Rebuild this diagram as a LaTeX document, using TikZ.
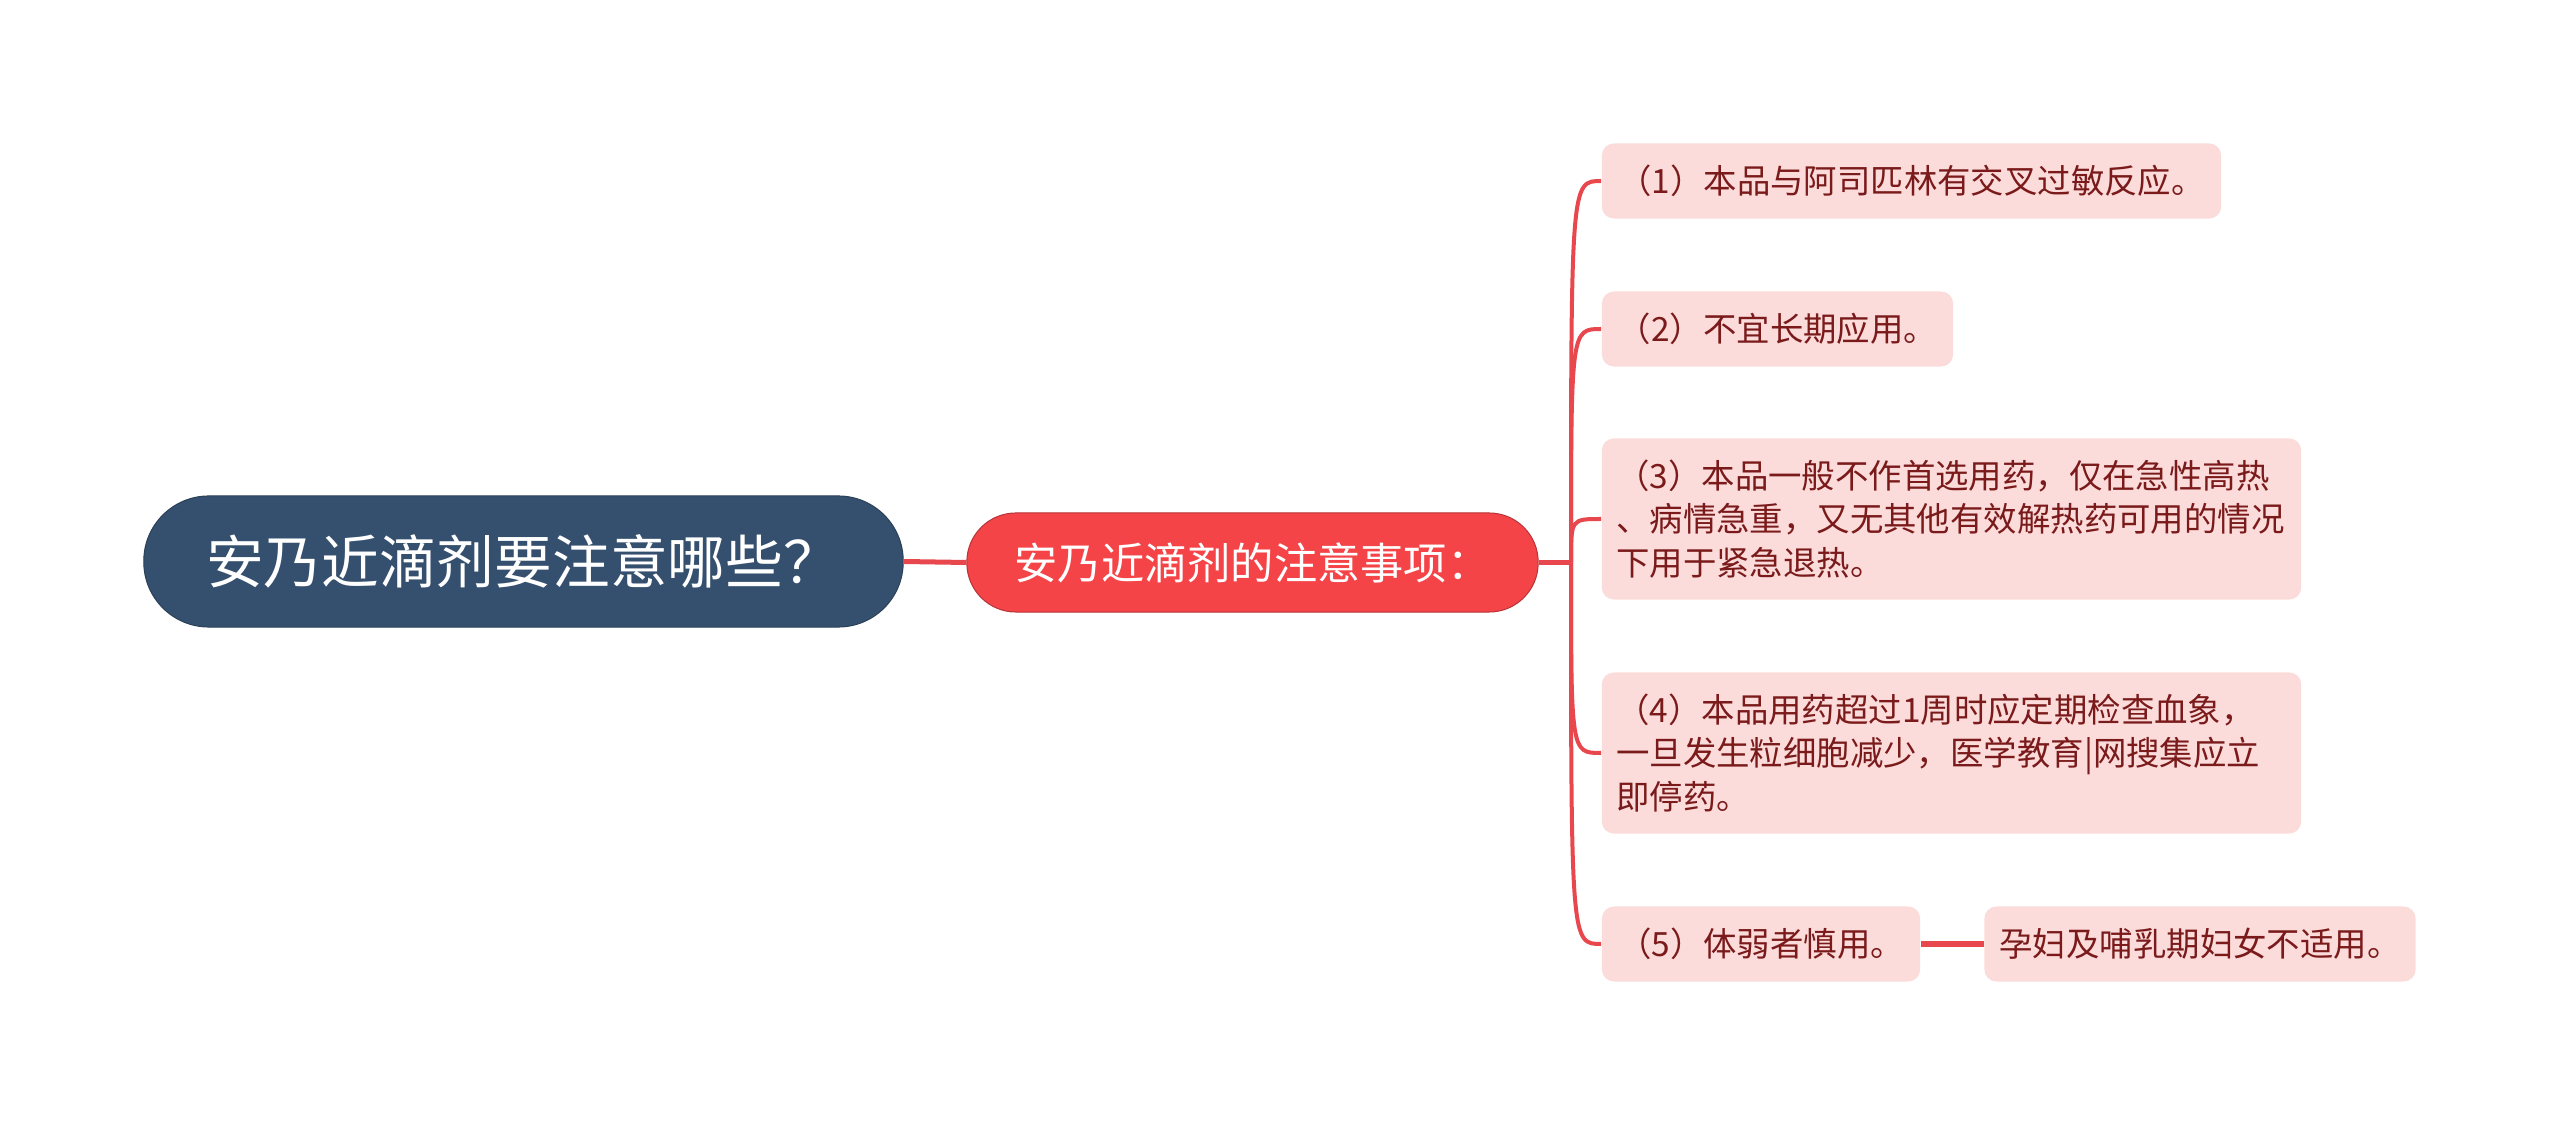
\documentclass[tikz,border=0pt]{standalone}
\usepackage{fontspec}
\setmainfont{Noto Sans CJK SC}
\usetikzlibrary{calc}
\definecolor{rootblue}{RGB}{53,80,110}
\definecolor{midred}{RGB}{245,68,72}
\definecolor{leafpink}{RGB}{252,219,219}
\definecolor{leaftext}{RGB}{122,26,26}
\definecolor{linered}{RGB}{232,72,77}
\tikzset{
	rootbox/.style={fill=rootblue, draw=rootblue!80!black, line width=0.01cm, rounded corners=0.65cm, inner sep=0pt, minimum width=7.59cm, minimum height=1.31cm, text=white, font=\fontsize{16.4}{19}\selectfont},
	midbox/.style={fill=midred, draw=midred!75!black, line width=0.01cm, rounded corners=0.49cm, inner sep=0pt, minimum width=5.71cm, minimum height=0.99cm, text=white, font=\fontsize{12.3}{14}\selectfont},
	leafbox/.style={fill=leafpink, rounded corners=0.12cm, inner sep=0pt, minimum height=0.75cm, text=leaftext, font=\fontsize{9.5}{12.4}\selectfont},
	bigleaf/.style={leafbox, inner xsep=0.145cm, text width=6.70cm, align=left},
	branch/.style={draw=linered, line width=0.04cm},
	trunk/.style={draw=linered, line width=0.05cm}
}

\begin{document}
\begin{tikzpicture}[x=0.01cm, y=-0.01cm]
			%%%%% START %%%%%
			
			\useasboundingbox (0, 0) rectangle (2560, 1125);
			
			\node[rootbox] (root) at (523.5, 561.5) {安乃近滴剂要注意哪些？};
			\node[midbox] (mid) at (1252.5, 562.5) {安乃近滴剂的注意事项：};
			\coordinate (fork) at (1571, 562.5);
			
			\node[leafbox, minimum width=6.19cm] (p1) at (1911.5, 181) {（1）本品与阿司匹林有交叉过敏反应。};
			\node[leafbox, minimum width=3.51cm] (p2) at (1777.5, 329) {（2）不宜长期应用。};
			\node[bigleaf, minimum height=1.61cm] (p3) at (1951.5, 519) {（3）本品一般不作首选用药，仅在急性高热\\、病情急重，又无其他有效解热药可用的情况\\下用于紧急退热。};
			\node[bigleaf, minimum height=1.61cm] (p4) at (1951.5, 753) {（4）本品用药超过1周时应定期检查血象，\\一旦发生粒细胞减少，医学教育|网搜集应立\\即停药。};
			\node[leafbox, minimum width=3.18cm] (p5) at (1761, 944) {（5）体弱者慎用。};
			\node[leafbox, minimum width=4.31cm] (p6) at (2200, 944) {孕妇及哺乳期妇女不适用。};
			
			\draw[trunk] (root.east) -- (mid.west);
			\draw[trunk] (mid.east) -- (fork);
			
			\foreach \leaf in {p1, p2, p3, p4, p5}
			{
				\draw[branch] (fork) .. controls (fork |- \leaf.west) .. (\leaf.west);
			}
			
			\draw[trunk] (p5.east) -- (p6.west);
			
			%%%%% END %%%%%
		\end{tikzpicture}
\end{document}
